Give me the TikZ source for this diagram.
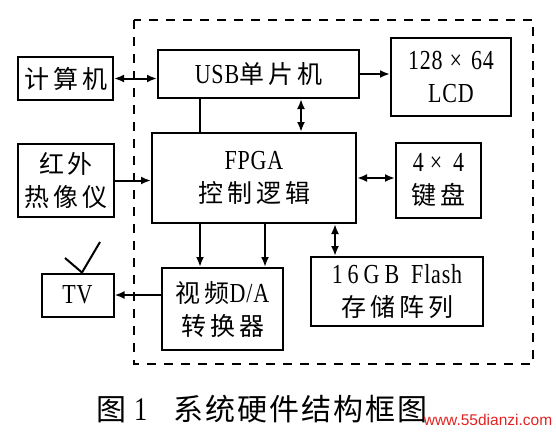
\documentclass[tikz,border=0pt]{standalone}
\usepackage{fontspec}
\setmainfont[Scale=1.1,FakeStretch=0.8,LetterSpace=3]{Liberation Serif}
\newfontfamily\cjkbox[LetterSpace=16]{Noto Sans CJK SC}
\newfontfamily\cjkcap[LetterSpace=7]{Noto Sans CJK SC}
\newfontfamily\wmfont{Liberation Sans}
\newcommand\zhtext[1]{{\cjkbox #1}}
\newcommand\zhcap[1]{{\cjkcap #1}}
\usetikzlibrary{arrows.meta}
\definecolor{wmred}{RGB}{225,35,35}
\tikzset{
  blk/.style={draw, line width=2pt, inner sep=0pt, align=center, font=\fontsize{25}{33}\selectfont},
  wire/.style={line width=2pt},
  arr/.style={line width=2pt, -{Latex[length=10pt,width=8pt]}},
  darr/.style={line width=2pt, {Latex[length=10pt,width=8pt]}-{Latex[length=10pt,width=8pt]}},
  frame/.style={draw, line width=2pt, dash pattern=on 9pt off 8pt}
}
\begin{document}
\begin{tikzpicture}[x=1pt,y=-1pt]
\path[use as bounding box] (0,0) rectangle (556,434);
\draw[frame] (134,20) rectangle (533,364);
% boxes
\node[blk, minimum width=95pt, minimum height=43pt] (jsj) at (65.5,78.5) {\zhtext{计算机}};
\node[blk, minimum width=201pt, minimum height=48pt] (usb) at (258.5,74) {USB\zhtext{单片机}};
\node[blk, minimum width=120pt, minimum height=78pt] (lcd) at (451,77) {128\hspace{7pt}×\hspace{9pt}64\\LCD};
\node[blk, minimum width=96pt, minimum height=73pt] (hw) at (66,180.5) {\zhtext{红外}\\\zhtext{热像仪}};
\node[blk, minimum width=204pt, minimum height=90pt] (fpga) at (254,178) {FPGA\\\zhtext{控制逻辑}};
\node[blk, minimum width=85pt, minimum height=75pt] (kb) at (438.5,180.5) {4\hspace{6pt}×\hspace{11pt}4\\\zhtext{键盘}};
\node[blk, minimum width=72pt, minimum height=43pt] (tv) at (77.5,295) {TV};
\node[blk, minimum width=121pt, minimum height=82pt] (da) at (222.5,309) {\zhtext{视频}D/A\\\zhtext{转换器}};
\node[blk, minimum width=172pt, minimum height=69pt] (fl) at (397,291.5) {{\addfontfeature{LetterSpace=18}16GB}\hspace{12pt}Flash\\\zhtext{存储阵列}};
% column coordinates
\coordinate (xa) at (200,0);
\coordinate (xb) at (265,0);
\coordinate (xc) at (301,0);
\coordinate (xd) at (335,0);
% connectors
\draw[darr] (jsj.east) -- (jsj.east -| usb.west);
\draw[arr] (usb.east) -- (usb.east -| lcd.west);
\draw[wire] (usb.south -| xa) -- (fpga.north -| xa);
\draw[darr] (usb.south -| xc) -- (fpga.north -| xc);
\draw[arr] (hw.east) -- (hw.east -| fpga.west);
\draw[darr] (fpga.east) -- (fpga.east -| kb.west);
\draw[arr] (fpga.south -| xa) -- (da.north -| xa);
\draw[arr] (fpga.south -| xb) -- (da.north -| xb);
\draw[darr] (fpga.south -| xd) -- (fl.north -| xd);
\draw[arr] (da.west |- tv.east) -- (tv.east);
% antenna
\coordinate (antL) at (65,258);
\coordinate (antR) at (100,242);
\draw[wire] (antL) -- ([xshift=4.5pt]tv.north) -- (antR);
% caption
\node[font=\fontsize{30}{30}\selectfont, inner sep=0pt] (cap) at (262,409) {\zhcap{图}\hspace{8pt}1\hspace{26pt}\zhcap{系统硬件结构框图}};
\node[font=\wmfont\fontsize{15.5}{16}\selectfont, text=wmred, inner sep=0pt] (wmk) at (488,420) {www.55dianzi.com};
\end{tikzpicture}
\end{document}
